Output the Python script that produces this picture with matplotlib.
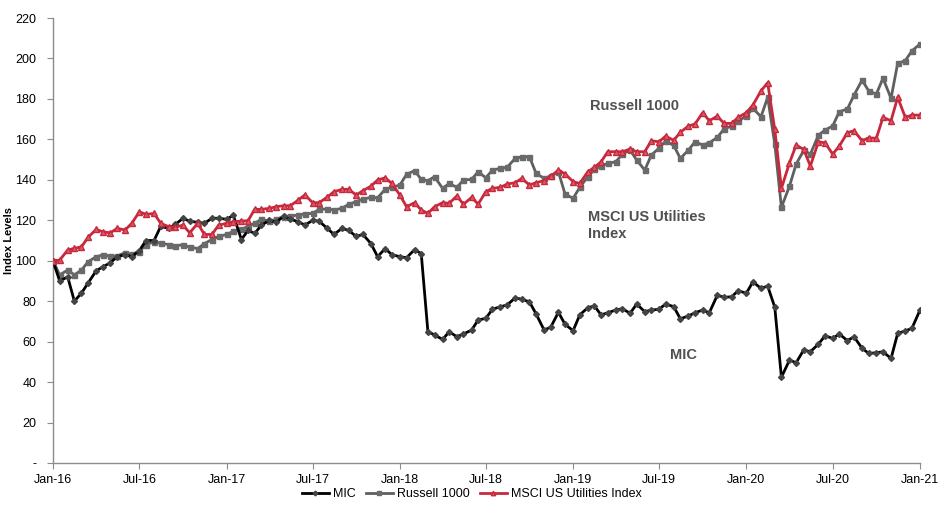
import matplotlib
matplotlib.use("Agg")
import matplotlib.pyplot as plt
import matplotlib.dates as mdates
import pandas as pd
import numpy as np

plt.rcParams['font.family'] = ['Liberation Sans', 'DejaVu Sans']

dates = pd.date_range("2016-01-01", "2021-01-01", freq="SMS")

mic = [100, 90, 92, 80, 84, 89, 95, 97, 99, 102, 103, 102, 105, 110, 110, 117, 116, 118,
       121, 119.5, 119, 118.5, 121, 121, 120.5, 122.5, 110.5, 115, 113.5, 117.5, 120, 119,
       122, 120.5, 119.3, 117.6, 120, 119.5, 116, 113, 116, 115, 112, 113, 108.5, 102, 106,
       103, 102, 101.5, 105.5, 103.5, 65, 63.3, 61.1, 64.9, 62.4, 63.8, 65.7, 70.7, 71.5,
       76, 77.3, 78.1, 81.7, 80.9, 79.7, 73.7, 65.7, 67.2, 74.5, 68.6, 65.4, 73.2, 76.8,
       77.6, 73.2, 74.3, 75.6, 76.3, 74, 78.6, 74.8, 75.6, 76, 78.6, 77.3, 71.3, 72.7, 74.3,
       75.6, 74.3, 83, 81.9, 82.2, 85.2, 83.9, 89.6, 86.3, 87.5, 77, 42.4, 50.9, 49.6, 55.9,
       55, 58.8, 62.9, 61.6, 63.8, 60.5, 62.4, 56.7, 54.2, 54.5, 55, 51.7, 64.1, 65.3, 66.6,
       75.6]

russell = [100, 93, 95.4, 93, 95.4, 99.5, 102, 102.8, 102.3, 102.3, 104, 103.2, 104.5, 108,
           109.4, 108.6, 108, 107.5, 107.8, 106.8, 106, 108.5, 110.5, 112, 113, 114.5, 115.5,
           117, 118.5, 120.5, 119.5, 120.5, 121.8, 122.1, 122.6, 123.2, 123.4, 125.4, 125.6,
           125.1, 125.9, 127.9, 129.2, 130.5, 131.3, 131.1, 135.3, 136.3, 137.4, 142.7, 144.5,
           140.2, 139.6, 141.5, 135.8, 138.2, 136.3, 139.9, 140.2, 144, 141, 144.8, 145.7,
           146.2, 150.6, 151.4, 151.4, 143.2, 140.7, 142, 144, 133, 130.8, 136.3, 141.5,
           145.2, 146.8, 148.1, 148.9, 152.7, 154.7, 149.8, 144.8, 152.3, 155.6, 159.2, 157,
           150.6, 154.7, 158.8, 157.2, 158.3, 161, 165.1, 166.6, 169.1, 171.5, 175.3, 171.2,
           180.8, 157.7, 126.4, 136.9, 147.8, 154.5, 152.7, 162.1, 164.6, 166.6, 173.7, 175,
           181.9, 189.3, 183.9, 182.4, 190.2, 180.3, 197.6, 198.9, 203.8, 207.1]

msci = [100, 100.3, 105.3, 106.1, 106.9, 111.6, 115.5, 114.3, 113.8, 116, 115.2, 118.5, 124.2,
        122.9, 123.4, 118.5, 116.8, 116.6, 117.6, 113.8, 118.5, 113, 113, 117.6, 118.5, 119.3,
        119.6, 119.8, 125.4, 125.4, 125.9, 126.7, 127.2, 127.2, 130, 132.6, 128.7, 128.7,
        131.5, 134.1, 135.3, 135.3, 132.5, 134.6, 136.9, 139.9, 141, 138.2, 132.5, 126.7,
        128.7, 125.1, 123.4, 126.7, 128.7, 128.4, 132, 127.9, 131.3, 128, 134.1, 135.8, 136.3,
        137.9, 138.6, 140.7, 137.4, 138.6, 139.6, 141.7, 144.8, 142.9, 139.1, 138.2, 144,
        146.2, 148.9, 153.9, 153.9, 153.9, 155.2, 153.9, 153.9, 159.3, 158.8, 161.6, 159.5,
        163.5, 166.6, 167.6, 173.2, 169.2, 171.5, 167.9, 167.9, 170.9, 173.2, 177, 184, 188,
        164.9, 135.8, 148.4, 157.2, 155, 146.8, 158.8, 158.3, 152.7, 156.7, 163.3, 164.3,
        159.3, 160.8, 160.5, 170.9, 169.2, 180.8, 170.9, 172, 172]

series_names = ["MIC", "Russell 1000", "MSCI US Utilities Index"]
yticks = list(range(0, 221, 20))
ytick_labels = ["-"] + [str(v) for v in yticks[1:]]
xtick_dates = pd.date_range("2016-01-01", "2021-01-01", freq="6MS")

fig = plt.figure(figsize=(9.43, 5.22), dpi=100)
ax = fig.add_axes([0.0562, 0.113, 0.9194, 0.8525])

red = "#C8283C"
gray = "#5F5F5F"

ax.plot(dates, mic, color="black", lw=2, marker="D", ms=3,
        mfc="#444444", mec="#444444", label=series_names[0], zorder=3)
ax.plot(dates, russell, color=gray, lw=2, marker="s", ms=3.6,
        mfc="#6a6a6a", mec="#6a6a6a", label=series_names[1], zorder=2)
ax.plot(dates, msci, color=red, lw=2, marker="^", ms=4,
        mfc="#d65a68", mec=red, label=series_names[2], zorder=4)

ax.set_xlim(dates[0], dates[-1])
ax.set_ylim(0, 220)
ax.set_yticks(yticks)
ax.set_yticklabels(ytick_labels)
ax.set_xticks(xtick_dates)
ax.xaxis.set_major_formatter(mdates.DateFormatter("%b-%y"))

for s in ["top", "right"]:
    ax.spines[s].set_visible(False)
for s in ["left", "bottom"]:
    ax.spines[s].set_color("#8c8c8c")
    ax.spines[s].set_linewidth(1)

ax.tick_params(axis="both", direction="out", length=4, color="#8c8c8c",
               labelsize=9, labelcolor="black")
ax.tick_params(axis="x", pad=4)
ax.tick_params(axis="y", pad=8)

ax.set_ylabel("Index Levels", fontsize=8, fontweight="bold")
ax.yaxis.set_label_coords(-0.045, 0.5)

txt_col = "#505050"
ax.text(pd.Timestamp("2019-02-05"), 176.5, "Russell 1000", fontsize=10.5, fontweight="bold",
        color=txt_col, ha="left", va="center")
ax.text(pd.Timestamp("2019-02-01"), 117.5, "MSCI US Utilities\nIndex", fontsize=10.5,
        fontweight="bold", color=txt_col, ha="left", va="center", linespacing=1.25)
ax.text(pd.Timestamp("2019-07-24"), 53.5, "MIC", fontsize=10.5, fontweight="bold",
        color=txt_col, ha="left", va="center")

leg = fig.legend(loc="center", bbox_to_anchor=(0.5, 0.053), ncol=3, frameon=False,
                 fontsize=9, handlelength=2.2, columnspacing=0.8, handletextpad=0.3,
                 markerscale=0.8)

fig.savefig("out.png", dpi=100)
